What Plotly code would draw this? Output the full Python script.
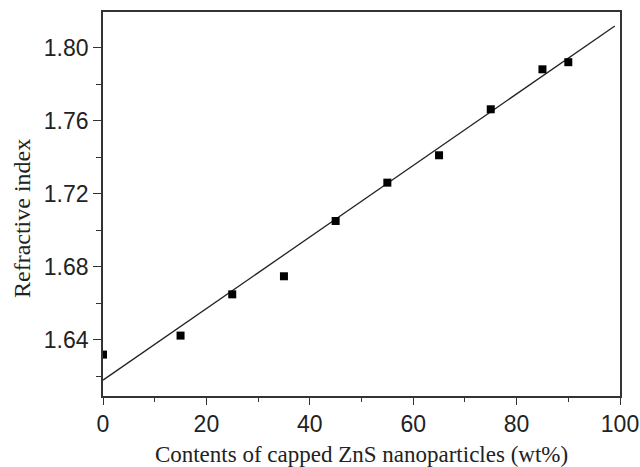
import plotly.graph_objects as go

# Data
contents_wt = [0, 15, 25, 35, 45, 55, 65, 75, 85, 90]
refractive_index = [1.632, 1.6424, 1.665, 1.6749, 1.7052, 1.7262, 1.7412, 1.7664, 1.7883, 1.7922]

# Linear fit line
fit_x = [0, 99]
fit_intercept = 1.618
fit_slope = 0.00196
fit_y = [fit_intercept + fit_slope * v for v in fit_x]

x_ticks = [0, 20, 40, 60, 80, 100]
y_ticks = [1.64, 1.68, 1.72, 1.76, 1.80]
y_tick_labels = ["1.64", "1.68", "1.72", "1.76", "1.80"]

fig = go.Figure()
fig.add_trace(go.Scatter(x=fit_x, y=fit_y, mode="lines",
                         line=dict(color="#222222", width=1.3), showlegend=False))
fig.add_trace(go.Scatter(x=contents_wt, y=refractive_index, mode="markers",
                         marker=dict(symbol="square", size=8, color="black"),
                         showlegend=False))

axis_common = dict(showgrid=False, zeroline=False, showline=True, linecolor="#333333",
                   linewidth=1.7, mirror=True, ticks="outside", tickcolor="#333333",
                   tickwidth=1.3, automargin=False,
                   tickfont=dict(family="Liberation Sans, Arial", size=23, color="#222222"))

fig.update_xaxes(range=[0, 100], tickvals=x_ticks, ticklen=7,
                 minor=dict(ticks="outside", dtick=10, ticklen=4, tickcolor="#333333", tickwidth=1.3),
                 title=dict(text="Contents of capped ZnS nanoparticles (wt%)",
                            font=dict(family="Liberation Serif, Times New Roman", size=23, color="#222222"),
                            standoff=9),
                 **axis_common)
fig.update_yaxes(range=[1.6093, 1.8197], tickvals=y_ticks, ticktext=y_tick_labels, ticklen=8,
                 minor=dict(ticks="outside", tickvals=[1.62, 1.66, 1.70, 1.74, 1.78], ticklen=5,
                            tickcolor="#333333", tickwidth=1.3),
                 **axis_common)

fig.add_annotation(text="Refractive index", xref="paper", yref="paper",
                   x=-0.1567, y=0.4635, xanchor="center", yanchor="middle",
                   textangle=-90, showarrow=False,
                   font=dict(family="Liberation Serif, Times New Roman", size=24, color="#222222"))

fig.update_layout(width=640, height=467, margin=dict(l=103, r=20, t=12, b=71),
                  plot_bgcolor="white", paper_bgcolor="white")
fig.write_html("out.html", config={"displayModeBar": False},
               post_script="document.body.style.margin='0';document.body.style.overflow='hidden';")
